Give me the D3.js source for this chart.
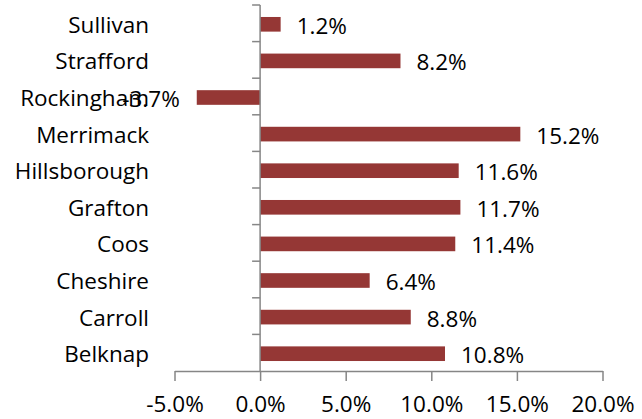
<!DOCTYPE html>
<html><head><meta charset="utf-8">
<script src="https://cdn.jsdelivr.net/npm/d3@7"></script>
<style>body{margin:0;background:#fff}text{font-family:"Open Sans",sans-serif;fill:#000}</style>
</head><body>
<svg id="c" width="642" height="419"></svg>
<script>
const categories = ["Sullivan","Strafford","Rockingham","Merrimack","Hillsborough","Grafton","Coos","Cheshire","Carroll","Belknap"];
const values = [1.2, 8.2, -3.7, 15.2, 11.6, 11.7, 11.4, 6.4, 8.8, 10.8];
const xTicks = [-5, 0, 5, 10, 15, 20];

const svg = d3.select("#c");
const x = d3.scaleLinear().domain([-5, 20]).range([174.5, 602.5]);
const y = d3.scaleBand().domain(categories).range([5, 371]).paddingInner(0.6).paddingOuter(0.3);
const yb = d3.scaleBand().domain(categories).range([5, 371]);
const axisColor = "#868686";
const fmt = v => v.toFixed(1) + "%";

// bars
svg.selectAll("rect.bar").data(values).join("rect")
  .attr("x", d => x(Math.min(0, d)))
  .attr("y", (d, i) => y(categories[i]) + 1)
  .attr("width", d => Math.abs(x(d) - x(0)))
  .attr("height", y.bandwidth())
  .attr("fill", "#953735");

// x axis
const xa = svg.append("g").attr("transform", "translate(0,371)")
  .call(d3.axisBottom(x).tickValues(xTicks).tickSize(10).tickSizeOuter(0).tickPadding(15).tickFormat(fmt));
xa.select(".domain").attr("stroke", axisColor).attr("stroke-width", 1.5);
xa.selectAll(".tick line").attr("stroke", axisColor).attr("stroke-width", 1.5);
xa.selectAll(".tick text").attr("font-size", 22.5).attr("font-family", "Open Sans").attr("fill", "#000");

// zero axis with category boundary ticks
svg.append("line").attr("x1", x(0)).attr("x2", x(0)).attr("y1", 5).attr("y2", 371)
  .attr("stroke", axisColor).attr("stroke-width", 1.5);
const bounds = categories.map(c => yb(c));
svg.selectAll("line.yt").data(bounds).join("line")
  .attr("x1", x(0) - 8).attr("x2", x(0)).attr("y1", d => d).attr("y2", d => d)
  .attr("stroke", axisColor).attr("stroke-width", 1.5);

// category labels
svg.selectAll("text.cat").data(categories).join("text")
  .attr("x", 149).attr("y", d => yb(d) + yb.bandwidth() / 2 + 1)
  .attr("text-anchor", "end").attr("dominant-baseline", "central")
  .attr("font-size", 22.5).text(d => d);

// data labels
svg.selectAll("text.val").data(values).join("text")
  .attr("x", d => d >= 0 ? x(d) + 16 : x(d) - 17)
  .attr("y", (d, i) => yb(categories[i]) + yb.bandwidth() / 2 + 2)
  .attr("text-anchor", d => d >= 0 ? "start" : "end")
  .attr("dominant-baseline", "central")
  .attr("font-size", 22.5).text(fmt);
</script>
</body></html>
